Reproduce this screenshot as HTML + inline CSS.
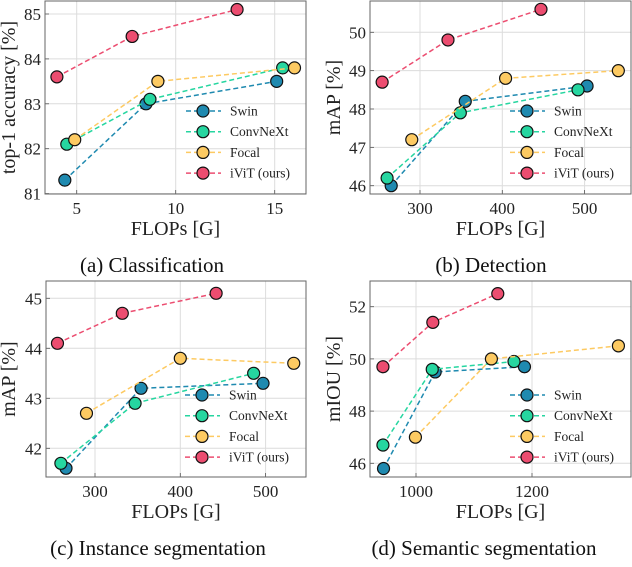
<!DOCTYPE html>
<html><head><meta charset="utf-8">
<style>
html,body{margin:0;padding:0;background:#fff;}
svg, svg text{font-family:"Liberation Serif","DejaVu Serif",serif !important;}
</style></head>
<body>
<svg id="fig" width="632" height="562" viewBox="0 0 632 562" xmlns="http://www.w3.org/2000/svg" font-family="Liberation Serif, serif"></svg>
<script>
const seriesNames = ["Swin","ConvNeXt","Focal","iViT (ours)"];
const seriesColors = ["#1f8ab0","#26d6a0","#fdca62","#ec4d70"];

// (a) Classification
const aSwinX=[4.4,8.5,15.1], aSwinY=[81.3,83.0,83.5];
const aConvX=[4.5,8.7,15.4], aConvY=[82.1,83.1,83.8];
const aFocalX=[4.9,9.1,16.0], aFocalY=[82.2,83.5,83.8];
const aIvitX=[4.0,7.8,13.1], aIvitY=[83.6,84.5,85.1];
const aXTicks=[5,10,15], aYTicks=[81,82,83,84,85];
// (b) Detection
const bSwinX=[265,355,503], bSwinY=[46.0,48.2,48.6];
const bConvX=[260,349,492], bConvY=[46.2,47.9,48.5];
const bFocalX=[290,404,541], bFocalY=[47.2,48.8,49.0];
const bIvitX=[254,334,447], bIvitY=[48.7,49.8,50.6];
const bXTicks=[300,400,500], bYTicks=[46,47,48,49,50];
// (c) Instance segmentation
const cSwinX=[266,354,497], cSwinY=[41.6,43.2,43.3];
const cConvX=[260,347,486], cConvY=[41.7,42.9,43.5];
const cFocalX=[290,400,533], cFocalY=[42.7,43.8,43.7];
const cIvitX=[256,332,442], cIvitY=[44.1,44.7,45.1];
const cXTicks=[300,400,500], cYTicks=[42,43,44,45];
// (d) Semantic segmentation
const dSwinX=[944,1033,1187], dSwinY=[45.8,49.5,49.7];
const dConvX=[943,1028,1169], dConvY=[46.7,49.6,49.9];
const dFocalX=[999,1130,1349], dFocalY=[47.0,50.0,50.5];
const dIvitX=[943,1029,1141], dIvitY=[49.7,51.4,52.5];
const dXTicks=[1000,1200], dYTicks=[46,48,50,52];

const NS="http://www.w3.org/2000/svg";
const FF='"Liberation Serif", serif';
const svg=document.getElementById('fig');
function mk(tag,attrs,parent){const e=document.createElementNS(NS,tag);for(const k in attrs)e.setAttribute(k,attrs[k]);if(tag==='text')e.style.fontFamily=FF;(parent||svg).appendChild(e);return e;}

function panel(p){
  const g=mk('g',{});
  
  
  const sx=v=>p.x0px+(v-p.x0v)*p.xs;
  const sy=v=>p.y0px-(v-p.y0v)*p.ys;
  p.xt.forEach(t=>{const l=mk('line',{x1:sx(t),x2:sx(t),y1:p.top,y2:p.bot,stroke:'#dcdcdc','stroke-width':1},g);
    });
  p.yt.forEach(t=>{const l=mk('line',{x1:p.left,x2:p.right,y1:sy(t),y2:sy(t),stroke:'#dcdcdc','stroke-width':1},g);
    });
  p.xt.forEach(t=>{
    mk('line',{x1:sx(t),x2:sx(t),y1:p.bot,y2:p.bot-4,stroke:'#555','stroke-width':0.8},g);
    const tx=mk('text',{x:sx(t),y:p.bot+20,'font-size':17,'text-anchor':'middle',fill:'#222'},g);
    tx.textContent=t;
    
  });
  p.yt.forEach(t=>{
    mk('line',{x1:p.left,x2:p.left+4,y1:sy(t),y2:sy(t),stroke:'#555','stroke-width':0.8},g);
    const tx=mk('text',{x:p.left-4,y:sy(t)+6,'font-size':17,'text-anchor':'end',fill:'#222'},g);
    tx.textContent=t;
    
  });
  const fr=mk('rect',{x:p.left,y:p.top,width:p.right-p.left,height:p.bot-p.top,fill:'none',stroke:'#666','stroke-width':1},g);
  
  p.series.forEach((s,i)=>{
    const sg=mk('g',{},g);
    
    
    const pts=s[0].map((x,j)=>sx(x)+','+sy(s[1][j])).join(' ');
    mk('polyline',{points:pts,fill:'none',stroke:seriesColors[i],'stroke-width':1.5,'stroke-dasharray':'5,3'},sg);
    s[0].forEach((x,j)=>{
      const c=mk('circle',{cx:sx(x),cy:sy(s[1][j]),r:6,fill:seriesColors[i],stroke:'#111','stroke-width':1.2},sg);
      
    });
  });
  const lg=mk('g',{},g);
  
  seriesNames.forEach((n,i)=>{
    const y=p.legY+i*20.7;
    const e=mk('g',{},lg);
    
    mk('line',{x1:p.legX-17,x2:p.legX+18,y1:y,y2:y,stroke:seriesColors[i],'stroke-width':1.5,'stroke-dasharray':'5,3'},e);
    mk('circle',{cx:p.legX,cy:y,r:6,fill:seriesColors[i],stroke:'#111','stroke-width':1.2},e);
    const t=mk('text',{x:p.legX+27,y:y+4.5,'font-size':13.5,fill:'#222'},e);t.textContent=n;
  });
  const xl=mk('text',{x:(p.left+p.right)/2,y:p.bot+41,'font-size':20,'text-anchor':'middle',fill:'#222'},g);
  xl.textContent='FLOPs [G]';
  const yc=(p.top+p.bot)/2;
  const yl=mk('text',{x:p.ylX,y:yc,'font-size':20,'text-anchor':'middle',fill:'#222',transform:`rotate(-90 ${p.ylX} ${yc})`},g);
  yl.textContent=p.ylabel;
  const cap=mk('text',{x:p.capX,y:p.capY,'font-size':21,'text-anchor':'middle',fill:'#111'},g);
  cap.textContent=p.caption;
}

panel({name:'panel-classification',left:45,right:306,top:1,bot:194,x0v:5,x0px:76.7,xs:19.8,y0v:85,y0px:14,ys:44.9,
  xt:aXTicks,yt:aYTicks,series:[[aSwinX,aSwinY],[aConvX,aConvY],[aFocalX,aFocalY],[aIvitX,aIvitY]],
  legX:203,legY:111,ylX:15,ylabel:'top-1 accuracy [%]',caption:'(a) Classification',capX:152,capY:272});
panel({name:'panel-detection',left:370,right:631,top:1,bot:194,x0v:300,x0px:420,xs:0.823,y0v:50,y0px:32.3,ys:38.35,
  xt:bXTicks,yt:bYTicks,series:[[bSwinX,bSwinY],[bConvX,bConvY],[bFocalX,bFocalY],[bIvitX,bIvitY]],
  legX:527,legY:111,ylX:340,ylabel:'mAP [%]',caption:'(b) Detection',capX:491,capY:272});
panel({name:'panel-instance-segmentation',left:46,right:306,top:281,bot:477,x0v:300,x0px:95,xs:0.853,y0v:45,y0px:298.3,ys:50,
  xt:cXTicks,yt:cYTicks,series:[[cSwinX,cSwinY],[cConvX,cConvY],[cFocalX,cFocalY],[cIvitX,cIvitY]],
  legX:202,legY:395,ylX:15,ylabel:'mAP [%]',caption:'(c) Instance segmentation',capX:158,capY:555});
panel({name:'panel-semantic-segmentation',left:370,right:631,top:281,bot:477,x0v:1000,x0px:416,xs:0.58,y0v:52,y0px:306.7,ys:26.1,
  xt:dXTicks,yt:dYTicks,series:[[dSwinX,dSwinY],[dConvX,dConvY],[dFocalX,dFocalY],[dIvitX,dIvitY]],
  legX:527,legY:395,ylX:340,ylabel:'mIOU [%]',caption:'(d) Semantic segmentation',capX:484,capY:555});
</script>
</body></html>
